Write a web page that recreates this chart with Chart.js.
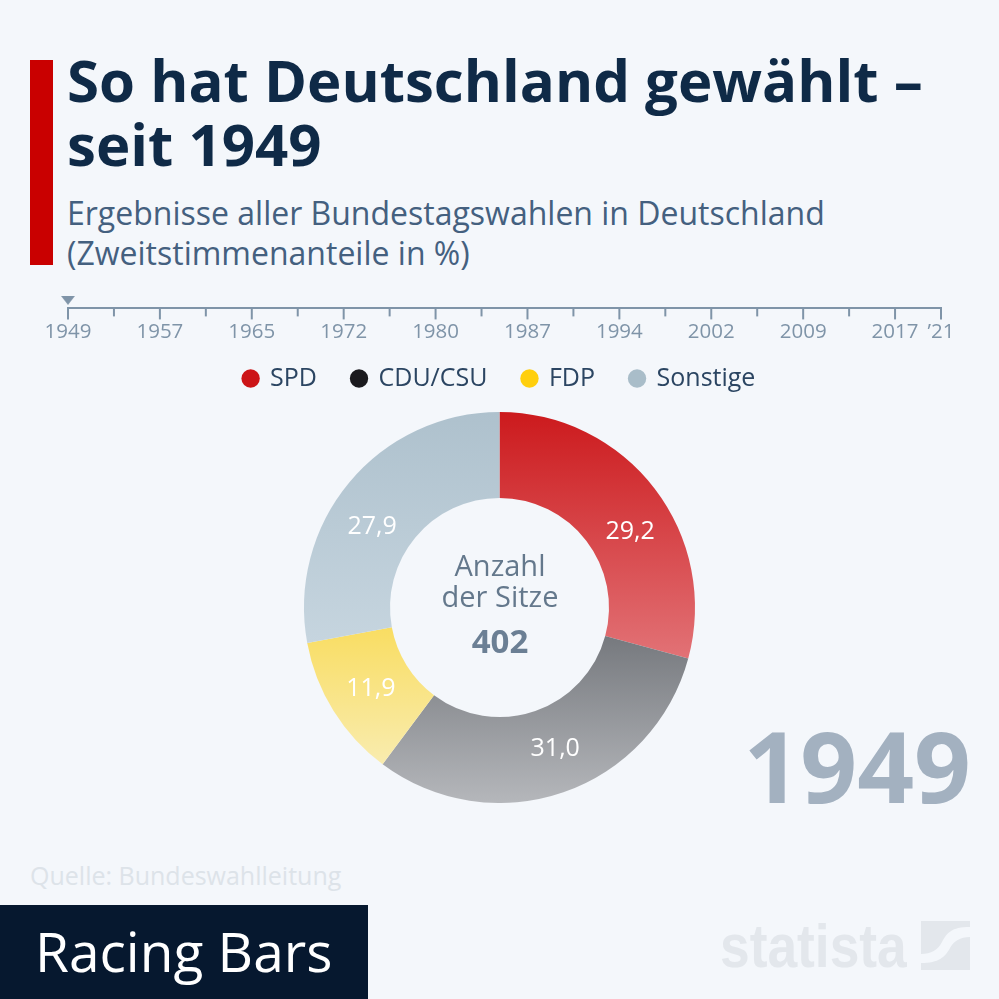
<!DOCTYPE html>
<html lang="de">
<head>
<meta charset="UTF-8">
<title>So hat Deutschland gewählt</title>
<script src="https://cdn.jsdelivr.net/npm/chart.js"></script>
<style>
html, body { margin: 0; padding: 0; }
body { width: 999px; height: 999px; background: #f4f7fb; position: relative; overflow: hidden; font-family: "Open Sans", sans-serif; }
.abs { position: absolute; white-space: nowrap; }
#bar { left: 30px; top: 60px; width: 23px; height: 205px; background: #c90000; }
#title { left: 67px; top: 48px; font-size: 58.2px; line-height: 64px; font-weight: 700; color: #0f2a47; }
#sub { left: 67px; top: 193px; font-size: 32px; line-height: 40px; color: #44607f; }
#timeline { left: 0; top: 256px; }
#donut { left: 0; top: 331px; }
#center { left: 400px; width: 200px; top: 549px; text-align: center; font-size: 29px; line-height: 31px; color: #64788c; }
#center b { display: block; margin-top: 14px; font-size: 33px; color: #6b7f94; }
#year { right: 28px; top: 700px; font-size: 99.5px; line-height: 130px; font-weight: 700; color: #a3b1c0; }
#source { left: 30px; top: 859px; font-size: 25px; line-height: 32px; color: #dde3e9; }
#tag { left: 0; top: 905px; width: 368px; height: 94px; background: #06182f; color: #fff; font-size: 55px; line-height: 92px; text-indent: 35px; }
#logo { left: 720px; top: 915px; font-family: "Liberation Sans Narrow", sans-serif; font-weight: 700; font-size: 62px; line-height: 62px; color: #e3e7ec; transform: scaleX(0.86); transform-origin: left top; }
#mark { left: 921px; top: 921px; }
</style>
</head>
<body>
<div class="abs" id="bar"></div>
<div class="abs" id="title">So hat Deutschland gewählt –<br>seit 1949</div>
<div class="abs" id="sub">Ergebnisse aller Bundestagswahlen in Deutschland<br>(Zweitstimmenanteile in %)</div>
<canvas class="abs" id="timeline" width="999" height="90"></canvas>
<canvas class="abs" id="donut" width="999" height="472"></canvas>
<div class="abs" id="center">Anzahl<br>der Sitze<b>402</b></div>
<div class="abs" id="year">1949</div>
<div class="abs" id="source">Quelle: Bundeswahlleitung</div>
<div class="abs" id="tag">Racing Bars</div>
<div class="abs" id="logo">statista</div>
<svg class="abs" id="mark" width="49" height="49" viewBox="0 0 49 49">
  <path d="M0 0H49V6C30 6 26 12 21 21C17 29 10 33 0 33Z" fill="#e3e7ec"/>
  <path d="M49 16V49H0V42C18 42 24 36 29 27C33 20 39 16 49 16Z" fill="#e3e7ec"/>
</svg>

<script>
const parties = ["SPD", "CDU/CSU", "FDP", "Sonstige"];
const shares = [29.2, 31.0, 11.9, 27.9];
const legendColors = ["#cc1417", "#1a1a1e", "#ffcf0d", "#a9bdc9"];
const topColors = ["#cc1a1d", "#76797e", "#f9dd62", "#aec1cd"];
const bottomColors = ["#e27276", "#b5b7bb", "#f9ecaf", "#c6d5df"];

const yearLabels = ["1949", "", "1957", "", "1965", "", "1972", "", "1980", "",
    "1987", "", "1994", "", "2002", "", "2009", "", "2017", "’21"];
const currentYear = [1];

const axisColor = "#7f94a8";
// labels don't sit exactly mid-slice in the original, degrees clockwise
const labelShift = [7, -2.5, 0, -7];

// flat triangle for the year marker, the built in one is too tall
const marker = document.createElement("canvas");
marker.width = 14;
marker.height = 9;
const markerCtx = marker.getContext("2d");
markerCtx.fillStyle = axisColor;
markerCtx.beginPath();
markerCtx.moveTo(0, 0);
markerCtx.lineTo(14, 0);
markerCtx.lineTo(7, 9);
markerCtx.fill();

// long tick on labelled years, short one in between
const electionTicks = {
    id: "electionTicks",
    afterDraw(chart) {
        const x = chart.scales.x, c = chart.ctx;
        c.save();
        c.strokeStyle = axisColor;
        c.lineWidth = 2;
        x.ticks.forEach((t, i) => {
            const px = x.getPixelForTick(i);
            c.beginPath();
            c.moveTo(px, x.top);
            c.lineTo(px, x.top + (yearLabels[i] ? 11 : 8));
            c.stroke();
        });
        c.restore();
    }
};

new Chart(document.getElementById("timeline"), {
    type: "line",
    data: {
        labels: yearLabels,
        datasets: [{
            data: currentYear,
            showLine: false,
            clip: false,
            pointStyle: marker,
            borderWidth: 0
        }]
    },
    options: {
        responsive: false,
        animation: false,
        layout: { padding: { left: 68, right: 58, top: 0, bottom: 0 } },
        plugins: { legend: { display: false }, tooltip: { enabled: false } },
        scales: {
            y: { display: false, min: 0, max: 6 },
            x: {
                offset: false,
                border: { color: axisColor, width: 2 },
                grid: { drawOnChartArea: false, drawTicks: true, tickLength: 9, tickColor: "rgba(0,0,0,0)" },
                ticks: { autoSkip: false, maxRotation: 0, padding: 2, color: "#7f94a8", font: { family: "Open Sans", size: 20.5 } }
            }
        }
    },
    plugins: [electionTicks]
});

// vertical gradient spanning the slice's own extent
function sliceFill(ctx) {
    const chart = ctx.chart, i = ctx.dataIndex;
    const arc = chart.getDatasetMeta(0).data[i];
    if (!chart.chartArea || !arc || !arc.outerRadius) return topColors[i];
    const total = shares.reduce((a, b) => a + b, 0);
    const before = shares.slice(0, i).reduce((a, b) => a + b, 0);
    const from = -Math.PI / 2 + before / total * 2 * Math.PI;
    const to = from + shares[i] / total * 2 * Math.PI;
    let min = Infinity, max = -Infinity;
    for (let k = 0; k <= 60; k++) {
        const s = Math.sin(from + (to - from) * k / 60);
        [arc.outerRadius, arc.innerRadius].forEach(r => {
            min = Math.min(min, arc.y + r * s);
            max = Math.max(max, arc.y + r * s);
        });
    }
    const g = chart.ctx.createLinearGradient(0, min, 0, max);
    g.addColorStop(0, topColors[i]);
    g.addColorStop(1, bottomColors[i]);
    return g;
}

const sliceLabels = {
    id: "sliceLabels",
    afterDatasetsDraw(chart) {
        const c = chart.ctx;
        c.save();
        c.fillStyle = "#ffffff";
        c.font = "25px 'Open Sans'";
        c.textAlign = "center";
        c.textBaseline = "middle";
        chart.getDatasetMeta(0).data.forEach((arc, i) => {
            const mid = (arc.startAngle + arc.endAngle) / 2 + labelShift[i] * Math.PI / 180;
            const r = (arc.innerRadius + arc.outerRadius) / 2 - 1;
            c.fillText(shares[i].toFixed(1).replace(".", ","), arc.x + r * Math.cos(mid), arc.y + r * Math.sin(mid) + 1);
        });
        c.restore();
    }
};

// legend keeps its wide item gap but gives the rings the room below it
const tightLegend = {
    id: "tightLegend",
    beforeLayout(chart) {
        const legend = chart.legend;
        if (legend.fit.patched) return;
        const fit = legend.fit;
        legend.fit = function () {
            fit.call(this);
            this.height = 81;
        };
        legend.fit.patched = true;
    }
};

const donutChart = new Chart(document.getElementById("donut"), {
    type: "doughnut",
    data: {
        labels: parties,
        datasets: [{ data: shares, backgroundColor: sliceFill, borderWidth: 0 }]
    },
    options: {
        responsive: false,
        animation: false,
        cutout: "56%",
        plugins: {
            tooltip: { enabled: false },
            legend: {
                position: "top",
                labels: {
                    usePointStyle: true,
                    pointStyle: "circle",
                    boxWidth: 14,
                    boxHeight: 13,
                    padding: 35,
                    color: "#2b4562",
                    font: { family: "Open Sans", size: 25 },
                    generateLabels: () => parties.map((p, i) => ({
                        text: p, fillStyle: legendColors[i], strokeStyle: legendColors[i],
                        lineWidth: 0, pointStyle: "circle", index: i, fontColor: "#2b4562"
                    }))
                }
            }
        }
    },
    plugins: [tightLegend, sliceLabels]
});
donutChart.update();
</script>
</body>
</html>
